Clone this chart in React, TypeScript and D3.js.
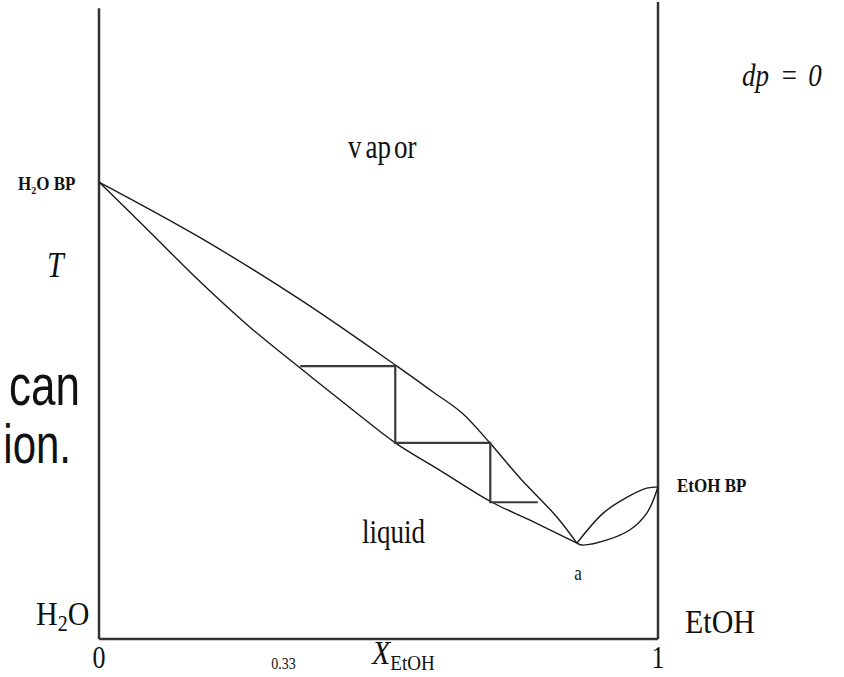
import * as d3 from "d3";

// vapour (dew) curve, water side of the azeotrope
const dewX = [0, 0.181, 0.36, 0.533, 0.597, 0.649, 0.699, 0.753, 0.819, 0.855];
const dewT = [71.5, 62.8, 53.1, 42.7, 38.7, 35.4, 30.7, 25.2, 19.1, 15.0];

// liquid (bubble) curve, water side
const bubX = [0, 0.091, 0.181, 0.27, 0.36, 0.449, 0.53, 0.61, 0.703, 0.771, 0.855];
const bubT = [71.5, 63.7, 55.9, 48.8, 42.4, 36.2, 30.7, 26.4, 21.4, 18.6, 15.0];

// ethanol side loop
const dewRX = [0.855, 0.902, 0.945, 0.98, 1];
const dewRT = [15.0, 19.7, 22.2, 23.6, 23.8];
const bubRX = [0.855, 0.864, 0.909, 0.95, 0.98, 1];
const bubRT = [15.0, 14.7, 15.5, 17.1, 19.7, 23.8];

// distillation stages (staircase)
const stairX = [0.36, 0.53, 0.53, 0.7, 0.7, 0.785];
const stairT = [42.7, 42.7, 30.7, 30.7, 21.4, 21.4];

const xTicks = [
  { v: 0, label: "0", big: true },
  { v: 0.33, label: "0.33", big: false },
  { v: 1, label: "1", big: true },
];

const W = 844;
const H = 677;
const serif = "'Liberation Serif', 'Times New Roman', serif";
const sans = "'Liberation Sans', Arial, sans-serif";

const x = d3.scaleLinear().domain([0, 1]).range([99, 658]);
const y = d3.scaleLinear().domain([0, 100]).range([639, 0]);

const line = d3
  .line<[number, number]>()
  .x((d) => x(d[0]))
  .y((d) => y(d[1]))
  .curve(d3.curveCatmullRom.alpha(0.5));

const straight = d3
  .line<[number, number]>()
  .x((d) => x(d[0]))
  .y((d) => y(d[1]));

const zip = (a: number[], b: number[]) => a.map((v, i) => [v, b[i]] as [number, number]);

function Label({ px, py, size, sy = 1.2, anchor = "start", family = serif, italic = false, bold = false, children }: any) {
  return (
    <text
      transform={`translate(${px},${py}) scale(1,${sy})`}
      fontSize={size}
      fontFamily={family}
      fontStyle={italic ? "italic" : "normal"}
      fontWeight={bold ? "bold" : "normal"}
      textAnchor={anchor}
      fill="#111"
    >
      {children}
    </text>
  );
}

export default function App() {
  const curves = [zip(dewX, dewT), zip(bubX, bubT), zip(dewRX, dewRT), zip(bubRX, bubRT)];
  return (
    <svg width={W} height={H} style={{ position: "absolute", left: 0, top: 0, background: "#fff" }}>
      {/* frame */}
      <g stroke="#333" strokeWidth={2.5} fill="none">
        <line x1={x(0)} x2={x(0)} y1={y(0)} y2={y(98.7)} />
        <line x1={x(1)} x2={x(1)} y1={y(0)} y2={y(99.7)} />
        <line x1={x(0)} x2={x(1)} y1={y(0)} y2={y(0)} />
      </g>

      {curves.map((c, i) => (
        <path key={i} d={line(c) || ""} fill="none" stroke="#1a1a1a" strokeWidth={1.4} />
      ))}

      <path d={straight(zip(stairX, stairT)) || ""} fill="none" stroke="#3a3a3a" strokeWidth={2.2} />

      {/* tick labels */}
      {xTicks.map((t) => (
        <Label key={t.label} px={x(t.v)} py={t.big ? 668 : 669} size={t.big ? 26 : 14} anchor="middle">
          {t.label}
        </Label>
      ))}

      <Label px={372} py={664} size={30} sy={1.15} italic>
        X
        <tspan fontStyle="normal" fontSize={19} dy={5}>EtOH</tspan>
      </Label>

      <Label px={47} py={277} size={30} italic>T</Label>

      <Label px={18} py={190} size={17} sy={1.1} bold>
        H<tspan fontSize={10} dy={4}>2</tspan>
        <tspan dy={-4}>O BP</tspan>
      </Label>
      <Label px={677} py={492} size={17} sy={1.1} bold>EtOH BP</Label>

      <Label px={348} py={158} size={27} sy={1.25}>
        v<tspan dx={4}>ap</tspan><tspan dx={3}>or</tspan>
      </Label>
      <Label px={362} py={543} size={27} sy={1.25}>liquid</Label>
      <Label px={578} py={580} size={17} anchor="middle">a</Label>

      <Label px={36} py={625} size={30} sy={1.15}>
        H<tspan fontSize={20} dy={5}>2</tspan>
        <tspan dy={-5}>O</tspan>
      </Label>
      <Label px={685} py={633} size={30} sy={1.15}>EtOH</Label>

      <Label px={742} py={86} size={27} italic>
        dp<tspan dx={11}>=</tspan><tspan dx={10}>0</tspan>
      </Label>

      {/* cut-off slide text at the left */}
      <Label px={80} py={405} size={44} sy={1.3} anchor="end" family={sans}>can</Label>
      <Label px={71} py={463} size={42} sy={1.3} anchor="end" family={sans}>ion.</Label>
    </svg>
  );
}
